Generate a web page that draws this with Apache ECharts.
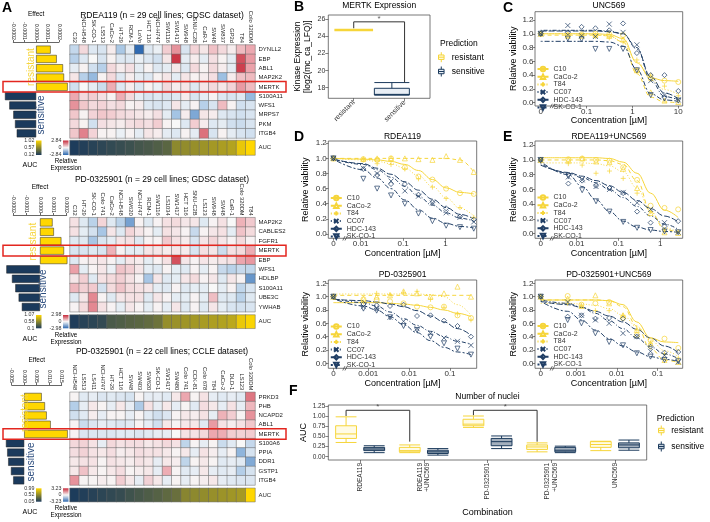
<!DOCTYPE html>
<html><head><meta charset="utf-8">
<script src="https://cdn.jsdelivr.net/npm/echarts@6/dist/echarts.min.js"></script>
<style>html,body{margin:0;padding:0;background:#fff}#c{width:710px;height:522px}</style>
</head><body><div id="c"></div>
<script>
// ---------------- DATA ----------------
const HM1_TITLE = 'RDEA119 (n = 29 cell lines; GDSC dataset)';
const HM1_COLS = ['C32','NCI-H548','SK-CO-1','LS513','CaCo-2','HT-29','RCM-1','LoVo','HCT 116','NCI-H747','SW1116','SW1417','SW948','SNU-C2B','CaR-1','SW48','SW837','GP2d','T84','Colo 320DM'];
const HM1_ROWS = ['DYNLL2','EBP','ABL1','MAP2K2','MERTK','S100A11','WFS1','MRPS7','PKM','ITGB4'];
const HM1_EXPR = [
 [-0.8,0.5,-0.4,-0.5,0.2,-1.2,-0.3,-2.8,-0.4,-0.2,0.7,1.6,-0.5,0.6,0.3,0.9,0.5,0.2,1.0,1.3],
 [-1.0,-0.4,0.0,-0.5,0.1,-0.4,-0.4,-0.2,-0.4,-0.6,0.3,2.7,-0.3,0.2,-0.3,0.4,0.1,-0.3,2.4,1.5],
 [-0.3,0.1,-0.6,-1.0,0.5,0.2,0.4,-0.3,0.1,-0.4,-0.3,0.3,-0.4,0.5,0.1,0.5,0.2,-0.3,2.6,1.4],
 [0.3,-1.0,-1.5,0.1,0.5,-0.4,0.2,-0.3,-0.4,0.1,0.3,-0.3,0.3,0.1,0.2,0.4,-1.4,0.2,0.9,1.0],
 [-0.6,0.0,-0.3,-0.7,1.2,-0.4,0.2,-0.4,0.1,-0.2,0.5,0.2,0.3,-0.4,0.3,0.5,0.3,0.6,1.5,1.0],
 [1.3,0.5,0.7,0.4,0.1,1.2,0.5,-0.3,-0.5,-0.4,-0.5,-0.4,0.2,-0.5,-0.3,0.1,-0.4,-0.5,-0.4,-1.5],
 [1.6,0.8,0.5,0.6,0.4,0.5,0.1,0.2,-0.4,-0.5,-0.4,0.3,-0.3,0.1,-1.0,-0.5,1.0,0.1,-0.6,-0.5],
 [0.8,0.1,0.6,0.8,0.7,0.5,0.4,0.3,0.2,0.4,-0.3,-1.3,0.2,-1.8,0.3,0.2,-0.4,-0.5,-0.6,-0.5],
 [0.5,0.1,-0.6,0.4,0.3,0.2,0.4,0.5,0.4,0.7,0.1,0.0,-0.4,0.7,0.2,-0.4,-0.3,-0.6,-0.7,-0.5],
 [0.8,1.8,0.6,0.1,0.1,-0.2,0.1,-0.3,0.3,0.2,-0.3,-0.4,0.1,-0.3,2.0,-0.5,0.1,-0.3,-0.5,-0.6]
];
const HM1_AUC = [0.13,0.15,0.17,0.19,0.21,0.23,0.25,0.28,0.30,0.33,0.37,0.57,0.59,0.61,0.63,0.66,0.69,0.72,0.93,1.02];
const HM1_EFFECT = [0.000127,0.00018,0.000235,0.000244,0.000276,-0.000273,-0.000235,-0.0002,-0.000185,-0.00017];
const HM1_AUC_LABELS = ['1.02','0.57','0.12'];
const HM1_EXPR_LABELS = ['2.84','0','-2.84'];

const HM2_TITLE = 'PD-0325901 (n = 29 cell lines; GDSC dataset)';
const HM2_COLS = ['C32','HT-29','SK-CO-1','Colo 741','CaCo-2','NCI-H548','SW620','NCI-H747','RCM-1','SW1116','LS1034','SW1417','HCT 116','SNU-C2B','LS123','SW948','SW48','CaR-1','Colo 320DM','T84'];
const HM2_ROWS = ['MAP2K2','CABLES2','FGFR1','MERTK','EBP','WFS1','HDLBP','S100A11','UBE3C','YWHAB'];
const HM2_EXPR = [
 [0.4,-0.4,-1.0,0.6,-0.4,-1.0,-2.0,0.1,-0.4,0.1,0.4,0.5,0.3,0.3,-0.4,0.1,0.4,0.0,1.2,0.8],
 [0.4,-0.3,-0.6,-1.3,0.3,-0.4,0.6,0.3,0.1,-0.3,0.4,0.3,0.1,-0.8,0.1,0.3,0.4,-0.3,0.9,0.5],
 [-0.4,-0.4,-1.3,-0.5,-0.3,0.3,0.4,-0.4,0.1,0.1,0.8,0.4,0.2,-0.5,0.3,0.6,0.3,0.1,0.5,0.1],
 [-0.5,-0.5,-0.4,-0.5,1.2,0.1,-0.3,-0.3,0.3,0.3,0.2,0.3,0.2,-0.5,0.4,0.3,-0.7,0.4,0.5,1.3],
 [-0.4,0.1,0.2,0.3,0.1,-0.3,0.3,0.2,-0.3,0.1,0.4,2.5,0.3,0.1,0.3,0.2,0.3,0.4,1.4,1.6],
 [1.5,-0.3,0.1,0.3,-0.2,0.9,0.7,0.3,-0.3,-0.4,0.1,-0.3,-0.4,0.1,-0.3,0.1,-0.8,-1.0,-0.8,-0.9],
 [0.3,0.7,-0.4,0.4,0.5,0.7,0.4,0.1,-1.3,0.3,-0.4,-0.3,0.3,0.5,0.1,0.3,-0.4,0.3,0.1,-2.2],
 [1.1,0.7,0.8,-0.6,0.5,0.9,0.5,0.4,0.3,-0.3,-0.4,0.1,-0.4,-0.3,-0.3,0.0,-0.3,0.1,-0.9,-0.5],
 [-0.4,0.3,1.8,0.1,-0.4,0.3,0.4,0.4,-0.4,0.3,0.1,-0.3,-0.3,0.1,-0.3,1.0,-0.4,-0.4,-1.0,-0.4],
 [0.1,0.5,1.8,0.4,0.1,-0.3,0.3,0.1,-0.3,0.1,-0.3,0.3,-0.4,0.1,-0.4,0.3,-0.3,-0.5,-0.6,-0.5]
];
const HM2_AUC = [0.12,0.15,0.17,0.20,0.30,0.32,0.35,0.37,0.40,0.45,0.62,0.64,0.66,0.68,0.70,0.72,0.74,0.78,0.98,1.05];
const HM2_EFFECT = [0.000094,0.000104,0.00016,0.00018,0.000205,-0.000252,-0.00021,-0.000185,-0.00016,-0.000136];
const HM2_AUC_LABELS = ['1.07','0.58','0.1'];
const HM2_EXPR_LABELS = ['2.98','0','-2.98'];

const HM3_TITLE = 'PD-0325901 (n = 22 cell lines; CCLE dataset)';
const HM3_COLS = ['NCI-H548','LS513','LS411','NCI-H747','HT-29','HCT 116','SW48','SW403','SW620','SK-CO-1','SW1417','SW480','Colo 741','CCK-81','Colo 678','T84','CaCo-2','DLD-1','LS123','Colo 320DM'];
const HM3_ROWS = ['PRKD3','PHB','NCAPD2','ABL1','MERTK','S100A6','PPIA','DDR1','GSTP1','ITGB4'];
const HM3_EXPR = [
 [0.1,-0.4,-0.3,-0.5,-0.4,-0.5,-0.6,0.1,-0.3,-0.3,-0.4,0.3,1.5,0.1,0.4,-0.3,-0.4,-0.3,-0.4,2.2],
 [-1.2,-0.3,0.3,0.1,-0.3,0.3,-0.3,-1.3,0.4,-0.3,0.3,-0.3,0.1,-0.4,0.5,0.3,-0.3,0.4,-0.3,1.2],
 [-0.7,-0.4,0.2,-0.3,0.1,0.1,-0.3,0.1,-0.4,-0.7,-0.5,0.1,0.3,0.2,0.4,-0.3,1.3,0.8,0.1,1.8],
 [0.1,-0.8,-0.5,-0.3,-0.4,-0.5,-0.4,0.1,-0.3,-0.7,0.3,0.1,0.3,0.3,-0.4,1.7,0.4,0.2,0.4,0.9],
 [0.1,-0.5,-0.5,-0.5,-0.5,-0.4,-0.4,-0.5,-0.4,-0.3,-0.3,0.0,0.4,0.4,0.6,1.5,1.4,0.8,0.7,0.8],
 [0.6,0.7,0.4,-0.3,0.6,0.4,0.5,0.5,0.3,0.4,0.6,0.4,-1.0,0.1,-0.3,0.1,-0.8,-0.4,0.0,-0.9],
 [0.5,0.7,0.4,0.3,0.5,0.2,0.3,0.5,0.4,0.4,0.3,0.1,0.3,-0.3,0.4,0.2,-0.3,0.1,-1.8,-0.6],
 [0.3,0.4,0.4,0.1,0.4,0.3,0.2,0.4,0.3,-0.3,0.3,0.2,-1.0,0.1,0.3,0.1,-0.4,-0.3,-0.4,-2.0],
 [0.3,1.0,0.3,0.1,0.3,0.5,0.1,0.2,0.3,-0.3,1.4,0.1,-0.4,-0.3,0.3,-0.3,-0.4,-0.3,-1.2,-0.6],
 [1.8,0.1,0.1,0.2,0.1,0.8,0.3,-0.3,0.7,0.3,-0.3,0.1,-0.3,0.1,0.2,0.3,-0.3,-0.4,-0.5,-0.5]
];
const HM3_AUC = [0.06,0.08,0.10,0.12,0.14,0.16,0.20,0.23,0.26,0.29,0.33,0.37,0.50,0.52,0.54,0.56,0.58,0.60,0.62,0.99];
const HM3_EFFECT = [0.0070,0.0083,0.0090,0.0106,0.0174,-0.0073,-0.0068,-0.0064,-0.0053,-0.0044];
const HM3_AUC_LABELS = ['0.99','0.52','0.05'];
const HM3_EXPR_LABELS = ['3.23','0','-3.23'];

// Panel B
const B_CATS = ['resistant','sensitive'];
const B_RESISTANT = [24.75,24.75,24.75,24.75,24.75];
const B_SENSITIVE = [17.15,17.15,17.22,17.93,18.6];
const B_YTICKS = [18,20,22,24,26];
const B_SIG_Y = [24.95,25.7,25.7,18.6];

// Dose response panels
const CELL_LINES = ['C10','CaCo-2','T84','CC07','HDC-143','SK-CO-1'];
const VIAB_TICKS = [0,0.2,0.4,0.6,0.8,1.0,1.2];

const C_DOSES = [0,0.039,0.078,0.156,0.3125,0.625,1.25,2.5,5,10];
const C_TICKS = [0,0.1,1,10];
const C_POINTS = [
 [1.0,0.98,0.99,1.0,0.99,0.98,0.47,0.35,0.32,0.30],
 [1.0,0.97,0.97,0.98,0.97,0.92,0.47,0.15,0.03,0.01],
 [1.0,0.98,0.98,0.96,0.94,0.88,0.62,0.40,0.24,0.10],
 [1.0,1.12,0.97,0.96,1.14,1.02,0.84,0.32,0.11,0.04],
 [1.0,1.02,1.10,1.08,1.05,1.15,0.72,0.40,0.40,0.17],
 [1.0,0.93,0.92,0.78,0.78,0.78,0.47,0.11,0.06,0.03]
];
const C_CURVES = [
 [1.0,1.0,1.0,1.0,0.99,0.93,0.58,0.36,0.32,0.31],
 [0.98,0.98,0.98,0.98,0.97,0.88,0.42,0.08,0.01,0.0],
 [1.0,1.0,1.0,0.99,0.97,0.88,0.60,0.34,0.19,0.12],
 [1.05,1.05,1.05,1.05,1.04,1.0,0.80,0.33,0.09,0.04],
 [1.04,1.04,1.04,1.04,1.03,1.0,0.78,0.38,0.14,0.06],
 [0.89,0.89,0.89,0.89,0.88,0.82,0.48,0.13,0.04,0.02]
];

const D1_DOSES = [0,0.0116,0.0245,0.052,0.11,0.23,0.49,1.03,2.18,4.6];
const D1_TICKS = [0,0.01,0.1,1];
const D1_POINTS = [
 [1.0,0.99,0.98,1.0,0.88,0.76,0.72,0.60,0.54,0.53],
 [1.0,0.99,1.0,1.0,1.0,0.99,0.98,1.03,0.98,0.82],
 [1.0,0.98,0.93,0.92,0.86,0.73,0.62,0.47,0.35,0.22],
 [1.0,0.87,0.80,0.70,0.57,0.50,0.41,0.28,0.22,0.16],
 [1.0,0.86,0.78,0.66,0.66,0.52,0.42,0.34,0.23,0.19],
 [1.0,0.73,0.60,0.51,0.40,0.27,0.17,0.11,0.09,0.07]
];
const D1_CURVES = [
 [1.0,0.99,0.98,0.96,0.92,0.84,0.72,0.61,0.55,0.53],
 [1.0,1.0,1.0,1.0,1.0,1.0,1.0,1.0,0.98,0.82],
 [1.0,0.98,0.96,0.93,0.87,0.77,0.63,0.48,0.34,0.24],
 [0.99,0.92,0.85,0.75,0.63,0.50,0.38,0.28,0.21,0.17],
 [0.99,0.93,0.87,0.79,0.69,0.58,0.46,0.35,0.26,0.20],
 [0.99,0.85,0.74,0.60,0.45,0.32,0.21,0.14,0.10,0.08]
];

const D2_DOSES = [0,0.00076,0.0016,0.0034,0.0073,0.0156,0.0334,0.0714,0.153,0.327];
const D2_TICKS = [0,0.001,0.01,0.1];
const D2_POINTS = [
 [1.0,0.96,0.95,0.93,0.90,0.85,0.84,0.85,0.72,0.68],
 [1.0,0.97,1.0,1.02,1.08,1.05,1.0,1.05,1.15,1.0],
 [1.0,0.92,1.05,1.03,1.06,1.08,0.96,0.84,0.74,0.65],
 [1.0,0.85,0.82,0.69,0.63,0.52,0.45,0.38,0.33,0.27],
 [1.0,0.89,0.87,0.86,0.88,0.71,0.72,0.64,0.56,0.40],
 [1.0,0.82,0.79,0.69,0.56,0.50,0.40,0.30,0.22,0.13]
];
const D2_CURVES = [
 [0.91,0.91,0.91,0.90,0.89,0.87,0.84,0.80,0.75,0.70],
 [1.02,1.02,1.02,1.02,1.02,1.02,1.02,1.02,1.02,1.02],
 [1.04,1.04,1.04,1.04,1.04,1.04,1.03,1.0,0.88,0.72],
 [0.97,0.91,0.86,0.77,0.67,0.57,0.48,0.40,0.33,0.28],
 [0.96,0.94,0.92,0.89,0.85,0.79,0.71,0.62,0.52,0.42],
 [0.97,0.86,0.80,0.70,0.58,0.46,0.34,0.24,0.17,0.13]
];

const E1_DOSES = [0,0.0063,0.0135,0.029,0.061,0.13,0.28,0.59,1.27,2.7];
const E1_TICKS = [0,0.01,0.1,1];
const E1_POINTS = [
 [1.0,1.01,1.02,1.0,0.99,0.90,0.73,0.38,0.35,0.33],
 [1.0,1.0,1.02,0.98,0.97,0.88,0.62,0.28,0.02,0.01],
 [1.0,0.95,0.93,0.82,0.85,0.75,0.55,0.30,0.05,0.03],
 [1.0,0.77,0.73,0.64,0.60,0.56,0.42,0.33,0.15,0.02],
 [1.0,0.68,0.72,0.65,0.62,0.55,0.30,0.15,0.10,0.17],
 [1.0,0.78,0.59,0.44,0.30,0.16,0.08,0.05,0.03,0.02]
];
const E1_CURVES = [
 [1.03,1.03,1.03,1.03,1.02,0.97,0.82,0.55,0.32,0.22],
 [1.0,1.0,1.0,1.0,0.99,0.94,0.72,0.30,0.06,0.01],
 [0.96,0.96,0.96,0.95,0.92,0.84,0.62,0.30,0.08,0.02],
 [0.95,0.82,0.76,0.69,0.60,0.49,0.37,0.24,0.13,0.06],
 [0.93,0.83,0.78,0.72,0.65,0.56,0.45,0.34,0.24,0.16],
 [0.98,0.80,0.64,0.46,0.30,0.17,0.09,0.05,0.03,0.02]
];

const E2_DOSES = [0,0.00063,0.00137,0.003,0.0065,0.0142,0.031,0.067,0.147,0.32];
const E2_TICKS = [0,0.001,0.01,0.1];
const E2_POINTS = [
 [1.0,1.01,0.88,0.90,0.92,0.68,0.42,0.35,0.37,0.23],
 [1.0,0.97,0.86,1.02,0.90,0.72,0.50,0.30,0.05,0.02],
 [1.0,0.90,0.86,0.79,0.79,0.72,0.50,0.30,0.14,0.08],
 [1.0,0.92,0.72,0.65,0.60,0.45,0.40,0.18,0.12,0.02],
 [1.0,0.70,0.72,0.67,0.68,0.67,0.40,0.25,0.16,0.17],
 [1.0,0.65,0.60,0.45,0.32,0.27,0.15,0.10,0.05,0.03]
];
const E2_CURVES = [
 [0.95,0.95,0.95,0.95,0.94,0.88,0.62,0.38,0.32,0.31],
 [0.95,0.95,0.95,0.95,0.94,0.85,0.56,0.22,0.05,0.01],
 [0.90,0.90,0.89,0.87,0.82,0.72,0.55,0.35,0.19,0.10],
 [0.95,0.90,0.84,0.75,0.64,0.52,0.38,0.25,0.14,0.07],
 [0.93,0.88,0.84,0.78,0.71,0.62,0.51,0.38,0.26,0.16],
 [0.93,0.78,0.65,0.50,0.37,0.26,0.17,0.10,0.06,0.03]
];

// Panel F
const F_CATS = ['RDEA119','RDEA119+UNC569','PD-0325901','PD-0325901+UNC569','UNC569'];
const F_RESISTANT = [
 [0.35,0.45,0.56,0.76,0.98],
 [0.10,0.12,0.15,0.23,0.29],
 [0.72,0.76,0.80,0.92,1.00],
 [0.12,0.18,0.24,0.29,0.34],
 [0.15,0.23,0.30,0.37,0.38]
];
const F_SENSITIVE = [
 [0.10,0.15,0.19,0.23,0.27],
 [0.04,0.08,0.12,0.16,0.20],
 [0.20,0.27,0.37,0.45,0.51],
 [0.10,0.12,0.16,0.23,0.26],
 [0.16,0.22,0.29,0.34,0.41]
];
const F_YTICKS = [0,0.25,0.5,0.75,1.0,1.25];
const F_SIG = [[0,1,1.0,1.14,0.37],[2,3,1.02,1.14,0.37]]; // from cat, to cat, left y, top y, right y

// ---------------- STYLE / BUILD ----------------
const FONT = '"Liberation Sans", Arial, Helvetica, sans-serif';
const YEL = '#FFD700', NAVY = '#1B3A5C', NAVY2 = '#213F66', LYEL = '#F6D53A';
const EXPR_COLORS = ['#2c68b0','#9cbfe2','#f8f8f8','#eba1a9','#c72b3b'];
const LINE_COLORS = [LYEL, LYEL, LYEL, NAVY2, NAVY2, NAVY2];
const LINE_TYPES = ['solid',[4,3],[1,2],[1,2,4,2],[6,2],[2,2,5,2]];
const SYMBOLS = ['circle','triangle','path://M5,0L5,10M0,5L10,5','path://M0,0L10,10M10,0L0,10','diamond','path://M0,0L10,0L5,9Z'];
const BOX_ICON = 'path://M2,5H12V13H2ZM2,9H12M7,0V5M7,13V18';
const EMPTY_BOX = ['-','-','-','-','-'];

const grid=[], xAxis=[], yAxis=[], series=[], visualMap=[], legend=[], graphic=[];
const addGrid = g => { grid.push(g); return grid.length-1; };
const addX = a => { a.axisLine = Object.assign({onZero:false}, a.axisLine||{}); xAxis.push(a); return xAxis.length-1; };
const addY = a => { a.axisLine = Object.assign({onZero:false}, a.axisLine||{}); yAxis.push(a); return yAxis.length-1; };
const addS = s => { series.push(s); return series.length-1; };
function txt(x, y, t, o) {
  o = o || {};
  graphic.push({type:'text', x, y, rotation:o.rot||0, silent:true, z:100,
    style:{text:t, fontSize:o.size||8, fontFamily:FONT, fontWeight:o.weight||'normal', fill:o.color||'#000',
      align:o.align||'center', verticalAlign:o.va||'middle', lineHeight:o.lh}});
}
function colorbar(x, y, w, h, colorsBottomTop, labels) {
  graphic.push({type:'rect', silent:true, z:100, shape:{x, y, width:w, height:h},
    style:{fill:{type:'linear', x:0, y:1, x2:0, y2:0, colorStops: colorsBottomTop.map((c,i)=>({offset:i/(colorsBottomTop.length-1), color:c}))}}});
  labels.forEach((t,i)=>{
    txt(x-1.5, y + i*h/2, t, {size:5.3, align:'right', color:'#333'});
  });
}

function heatBlock(o) {
  const gH = addGrid({left:70, top:o.top, width:185, height:o.h});
  const xH = addX({type:'category', gridIndex:gH, data:o.cols, position:'top', axisLine:{show:false}, axisTick:{show:false},
    axisLabel:{rotate:90, fontSize:5.8, color:'#222', margin:2, interval:0}, splitLine:{show:false}});
  const yH = addY({type:'category', gridIndex:gH, data:o.rows, inverse:true, position:'right', axisLine:{show:false}, axisTick:{show:false},
    axisLabel:{fontSize:6, color:'#222', margin:3.5, interval:0}});
  const d=[]; o.expr.forEach((row,r)=>row.forEach((v,c)=>d.push([c,r,v])));
  const sH = addS({type:'heatmap', name:'expr', xAxisIndex:xH, yAxisIndex:yH, data:d, silent:true,
    itemStyle:{borderColor:'#666', borderWidth:0.5}});
  visualMap.push({type:'continuous', show:false, seriesIndex:sH, dimension:2, min:-o.exprMax, max:o.exprMax, inRange:{color:EXPR_COLORS}});
  const gA = addGrid({left:70, top:o.aucTop, width:185, height:o.aucH});
  const xA = addX({type:'category', gridIndex:gA, data:o.cols, show:false});
  const yA = addY({type:'category', gridIndex:gA, data:['AUC'], position:'right', axisLine:{show:false}, axisTick:{show:false},
    axisLabel:{fontSize:6, color:'#222', margin:3.5}});
  const sA = addS({type:'heatmap', name:'auc', xAxisIndex:xA, yAxisIndex:yA, data:o.auc.map((v,c)=>[c,0,v]), silent:true,
    itemStyle:{borderColor:'#666', borderWidth:0.5}});
  visualMap.push({type:'continuous', show:false, seriesIndex:sA, dimension:2, min:o.aucMin, max:o.aucMax, inRange:{color:[NAVY, YEL]}});
  const gB = addGrid({left:o.barL, top:o.top, width:o.barW, height:o.h});
  const xB = addX({type:'value', gridIndex:gB, position:'top', offset:o.axOff, min:o.effMin, max:o.effMax, interval:o.effInt,
    name:'Effect', nameLocation:'middle', nameGap:o.nameGap, nameTextStyle:{fontSize:6.5, color:'#000'},
    axisLine:{show:true, lineStyle:{color:'#000', width:0.6}}, axisTick:{show:true, length:2, lineStyle:{color:'#000', width:0.6}},
    axisLabel:{rotate:90, fontSize:5.3, color:'#222', margin:2, formatter:v=>v.toFixed(o.digits)}, splitLine:{show:false}});
  const yB = addY({type:'category', gridIndex:gB, data:o.rows, inverse:true, show:false});
  addS({type:'bar', name:'effect', xAxisIndex:xB, yAxisIndex:yB, clip:false, barCategoryGap:'14%', silent:true,
    data:o.effect.map(v=>({value:v, itemStyle:{color: v>0?YEL:NAVY}})), itemStyle:{borderColor:'#222', borderWidth:0.5}});
  txt(162, o.titleY, o.title, {size:8.5});
  txt(o.resX, o.resY, 'resistant', {size:10, rot:Math.PI/2, color:LYEL});
  txt(o.senX, o.senY, 'sensitive', {size:10, rot:Math.PI/2, color:'#2B4C7E'});
  const ri = o.rows.indexOf('MERTK'), rh = o.h/o.rows.length;
  graphic.push({type:'rect', silent:true, z:101, shape:{x:3, y:o.top+ri*rh-0.6, width:283, height:rh+1.2},
    style:{fill:null, stroke:'#E3261F', lineWidth:1.5}});
  colorbar(36, o.aucTop, 5.5, o.aucH, [NAVY, YEL], o.aucLabels);
  colorbar(63, o.aucTop, 5.5, o.aucH, [EXPR_COLORS[0], EXPR_COLORS[2], EXPR_COLORS[4]], o.exprLabels);
  txt(30, o.legY+4, 'AUC', {size:7});
  txt(66, o.legY, 'Relative', {size:6.3});
  txt(66, o.legY+7, 'Expression', {size:6.3});
}

heatBlock({title:HM1_TITLE, titleY:16, cols:HM1_COLS, rows:HM1_ROWS, expr:HM1_EXPR, auc:HM1_AUC, effect:HM1_EFFECT,
  top:45, h:93, aucTop:140.5, aucH:14.5, barL:13.3, barW:45.7, effMin:-0.0002, effMax:0.0002, effInt:0.0001, digits:4,
  axOff:3, nameGap:22.5, exprMax:2.84, aucMin:0.12, aucMax:1.02, resX:31.7, resY:67, senX:41.7, senY:115,
  aucLabels:HM1_AUC_LABELS, exprLabels:HM1_EXPR_LABELS, legY:161});
heatBlock({title:HM2_TITLE, titleY:180, cols:HM2_COLS, rows:HM2_ROWS, expr:HM2_EXPR, auc:HM2_AUC, effect:HM2_EFFECT,
  top:217.7, h:94, aucTop:315, aucH:13.3, barL:13.3, barW:53.4, effMin:-0.0002, effMax:0.0002, effInt:0.0001, digits:4,
  axOff:2.7, nameGap:21.5, exprMax:2.98, aucMin:0.1, aucMax:1.07, resX:33.3, resY:241.7, senX:43.3, senY:289,
  aucLabels:HM2_AUC_LABELS, exprLabels:HM2_EXPR_LABELS, legY:335});
heatBlock({title:HM3_TITLE, titleY:352, cols:HM3_COLS, rows:HM3_ROWS, expr:HM3_EXPR, auc:HM3_AUC, effect:HM3_EFFECT,
  top:392.3, h:92.7, aucTop:488.3, aucH:13.4, barL:11.7, barW:50, effMin:-0.005, effMax:0.015, effInt:0.005, digits:3,
  axOff:7.3, nameGap:17.5, exprMax:3.23, aucMin:0.05, aucMax:0.99, resX:25, resY:413, senX:31.7, senY:462,
  aucLabels:HM3_AUC_LABELS, exprLabels:HM3_EXPR_LABELS, legY:508.3});

// ---- Panel B ----
(function(){
  const g = addGrid({left:328.3, top:15, width:101.7, height:83.3, show:true, borderColor:'#555', borderWidth:0.8});
  const x0 = addX({type:'category', gridIndex:g, data:B_CATS, axisLine:{show:false},
    axisTick:{show:true, length:3, alignWithLabel:true, lineStyle:{color:'#333', width:0.6}},
    axisLabel:{rotate:45, fontSize:7, color:'#333', margin:3}});
  // hidden finer band axis used to place the 'sensitive' box where the reference draws it
  const x1 = addX({type:'category', gridIndex:g, data:['s0','s1',B_CATS[1],'s3'], show:false});
  const x2 = addX({type:'value', gridIndex:g, min:0, max:2, show:false});
  const y = addY({type:'value', gridIndex:g, min:16.76, max:26.5, axisLine:{show:false},
    axisTick:{show:true, length:3, customValues:B_YTICKS, lineStyle:{color:'#333', width:0.6}},
    axisLabel:{customValues:B_YTICKS, fontSize:7, color:'#333', margin:3}, splitLine:{show:false},
    name:'Kinase Expression\n[log2(mc_ca_LFQ)]', nameLocation:'middle', nameGap:16, nameTextStyle:{fontSize:8.5, lineHeight:9.5, color:'#000'}});
  addS({type:'boxplot', name:'resistant', xAxisIndex:x0, yAxisIndex:y, data:[B_RESISTANT], silent:true,
    itemStyle:{color:'#FFF6C8', borderColor:LYEL, borderWidth:2.6}});
  addS({type:'boxplot', name:'sensitive', xAxisIndex:x1, yAxisIndex:y, data:[EMPTY_BOX, EMPTY_BOX, B_SENSITIVE, EMPTY_BOX], silent:true,
    boxWidth:[35,35], itemStyle:{color:'#E8EEF5', borderColor:NAVY, borderWidth:1}});
  addS({type:'line', name:'sigB', xAxisIndex:x2, yAxisIndex:y, data:[[0.5,B_SIG_Y[0]],[0.5,B_SIG_Y[1]],[1.5,B_SIG_Y[2]],[1.5,B_SIG_Y[3]]],
    symbol:'none', silent:true, lineStyle:{color:'#333', width:1}});
  addS({type:'scatter', name:'starB', xAxisIndex:x2, yAxisIndex:y, data:[[1.0,B_SIG_Y[1]]], symbolSize:0, silent:true,
    label:{show:true, position:'top', distance:-1, formatter:'*', fontSize:8, color:'#333'}});
  txt(379.2, 6, 'MERTK Expression', {size:8.5});
  txt(440, 43.3, 'Prediction', {size:8.5, align:'left'});
  legend.push({left:438, top:51.7, orient:'vertical', itemWidth:11, itemHeight:10, itemGap:3.3, padding:0, selectedMode:false,
    textStyle:{fontSize:8.5, color:'#000'},
    data:[{name:'resistant', icon:BOX_ICON, itemStyle:{color:'#FFFBE0', borderColor:LYEL, borderWidth:1}},
          {name:'sensitive', icon:BOX_ICON, itemStyle:{color:'#E8EEF5', borderColor:NAVY, borderWidth:1}}]});
})();

// ---- Dose response panels ----
function dosePanel(p) {
  const g = addGrid({left:p.left, top:p.top, width:p.w, height:p.h, show:true, borderColor:'#555', borderWidth:0.8});
  const pos = c => c === 0 ? p.zero : Math.log10(c);
  const xt = p.ticks.map(pos);
  const xi = addX({type:'value', gridIndex:g, min:p.xMin, max:p.xMax, axisLine:{show:false},
    axisTick:{show:true, length:2.5, customValues:xt, lineStyle:{color:'#333', width:0.6}},
    axisLabel:{customValues:xt, fontSize:8, color:'#333', margin:1.5,
      formatter:v=>{ const i = xt.findIndex(t=>Math.abs(t-v)<1e-6); return i<0 ? '' : String(p.ticks[i]); }},
    splitLine:{show:false}, name:'Concentration [µM]', nameLocation:'middle', nameGap:8.5, nameTextStyle:{fontSize:9, color:'#000'}});
  const yi = addY({type:'value', gridIndex:g, min:p.yMin, max:p.yMax, axisLine:{show:false},
    axisTick:{show:true, length:2.5, customValues:VIAB_TICKS, lineStyle:{color:'#333', width:0.6}},
    axisLabel:{customValues:VIAB_TICKS, fontSize:8, color:'#333', margin:1.5, formatter:v=>v.toFixed(1)},
    splitLine:{show:false}, name:'Relative viability', nameLocation:'middle', nameGap:p.yGap, nameTextStyle:{fontSize:9, color:'#000'}});
  CELL_LINES.forEach((name,k)=>{
    addS({type:'line', name, xAxisIndex:xi, yAxisIndex:yi, data:p.doses.map((c,i)=>[pos(c), p.curves[k][i]]),
      smooth:0.4, smoothMonotone:'x', showSymbol:false, symbol:SYMBOLS[k], symbolSize:5, silent:true, z:2,
      lineStyle:{color:LINE_COLORS[k], width:1, type:LINE_TYPES[k]},
      itemStyle:{color:'transparent', borderColor:LINE_COLORS[k], borderWidth:0.9}});
  });
  CELL_LINES.forEach((name,k)=>{
    addS({type:'scatter', name, xAxisIndex:xi, yAxisIndex:yi, data:p.doses.map((c,i)=>[pos(c), p.points[k][i]]),
      symbol:SYMBOLS[k], symbolSize:5, silent:true, z:3,
      itemStyle:{color:'transparent', borderColor:LINE_COLORS[k], borderWidth:0.9}});
  });
  legend.push({left:p.left+1.5, top:p.legTop, orient:'vertical', data:CELL_LINES, itemWidth:11, itemHeight:5.5, itemGap:0.7,
    padding:0, selectedMode:false, textStyle:{fontSize:7, color:'#333'}});
  txt(p.left+p.w/2, p.titleY, p.title, {size:8.5});
  const zx = p.left + (p.zero - p.xMin)/(p.xMax-p.xMin)*p.w + 11, by = p.top + p.h;
  [0,2.2].forEach(d=>graphic.push({type:'line', silent:true, z:100,
    shape:{x1:zx+d-1.6, y1:by+2.2, x2:zx+d+0.6, y2:by-2.2}, style:{stroke:'#333', lineWidth:0.7}}));
}

dosePanel({title:'UNC569', titleY:6, left:535, top:11.7, w:147.7, h:94.3, xMin:-2.124, xMax:1.096, zero:-2.0, ticks:C_TICKS,
  yMin:-0.048, yMax:1.32, doses:C_DOSES, points:C_POINTS, curves:C_CURVES, legTop:65.5, yGap:17});
dosePanel({title:'RDEA119', titleY:136.5, left:328.3, top:141, w:148.4, h:97.3, xMin:-2.76, xMax:0.732, zero:-2.64, ticks:D1_TICKS,
  yMin:-0.057, yMax:1.23, doses:D1_DOSES, points:D1_POINTS, curves:D1_CURVES, legTop:194.5, yGap:18});
dosePanel({title:'PD-0325901', titleY:275, left:328.3, top:280, w:148.4, h:88.3, xMin:-3.98, xMax:-0.345, zero:-3.856, ticks:D2_TICKS,
  yMin:-0.075, yMax:1.25, doses:D2_DOSES, points:D2_POINTS, curves:D2_CURVES, legTop:323, yGap:18});
dosePanel({title:'RDEA119+UNC569', titleY:136.5, left:535, top:141, w:147.7, h:97.3, xMin:-3.0, xMax:0.54, zero:-2.865, ticks:E1_TICKS,
  yMin:-0.062, yMax:1.257, doses:E1_DOSES, points:E1_POINTS, curves:E1_CURVES, legTop:194, yGap:17});
dosePanel({title:'PD-0325901+UNC569', titleY:275, left:535, top:280, w:147.7, h:88.3, xMin:-4.0, xMax:-0.387, zero:-3.86, ticks:E2_TICKS,
  yMin:-0.075, yMax:1.25, doses:E2_DOSES, points:E2_POINTS, curves:E2_CURVES, legTop:322.5, yGap:17});

// ---- Panel F ----
(function(){
  const g = addGrid({left:328.3, top:405, width:318.4, height:55, show:true, borderColor:'#555', borderWidth:0.8});
  const x0 = addX({type:'category', gridIndex:g, data:F_CATS, axisLine:{show:false},
    axisTick:{show:true, length:3, alignWithLabel:true, lineStyle:{color:'#333', width:0.6}},
    axisLabel:{rotate:90, fontSize:6.5, color:'#333', margin:3, lineHeight:7.5, interval:0, formatter:s=>s.replace('+','\n+')},
    name:'Combination', nameLocation:'middle', nameGap:48.5, nameTextStyle:{fontSize:9, color:'#000'}});
  const x1 = addX({type:'value', gridIndex:g, min:0, max:F_CATS.length, show:false});
  const y = addY({type:'value', gridIndex:g, min:-0.08, max:1.27, axisLine:{show:false},
    axisTick:{show:true, length:3, customValues:F_YTICKS, lineStyle:{color:'#333', width:0.6}},
    axisLabel:{customValues:F_YTICKS, fontSize:6.5, color:'#333', margin:3, formatter:v=>v.toFixed(2)}, splitLine:{show:false},
    name:'AUC', nameLocation:'middle', nameGap:20.5, nameTextStyle:{fontSize:9, color:'#000'}});
  addS({type:'boxplot', name:'resistant', xAxisIndex:x0, yAxisIndex:y, data:F_RESISTANT, silent:true,
    itemStyle:{color:'rgba(255,215,0,0.10)', borderColor:LYEL, borderWidth:1}});
  addS({type:'boxplot', name:'sensitive', xAxisIndex:x0, yAxisIndex:y, data:F_SENSITIVE, silent:true,
    itemStyle:{color:'rgba(27,58,92,0.40)', borderColor:NAVY, borderWidth:1}});
  const DODGE = -0.221;
  F_SIG.forEach(s=>{
    const a = s[0]+0.5+DODGE, b = s[1]+0.5+DODGE;
    addS({type:'line', name:'sigF', xAxisIndex:x1, yAxisIndex:y, data:[[a,s[2]],[a,s[3]],[b,s[3]],[b,s[4]]],
      symbol:'none', silent:true, lineStyle:{color:'#333', width:1}});
    addS({type:'scatter', name:'starF', xAxisIndex:x1, yAxisIndex:y, data:[[(a+b)/2, s[3]]], symbolSize:0, silent:true,
      label:{show:true, position:'top', distance:-1, formatter:'*', fontSize:8, color:'#333'}});
  });
  txt(487.5, 396.7, 'Number of nuclei', {size:8.5});
  txt(656.7, 418.3, 'Prediction', {size:8.5, align:'left'});
  legend.push({left:658, top:425, orient:'vertical', itemWidth:10, itemHeight:10, itemGap:5, padding:0, selectedMode:false,
    textStyle:{fontSize:8.5, color:'#000'},
    data:[{name:'resistant', icon:BOX_ICON, itemStyle:{color:'#FFFBE0', borderColor:LYEL, borderWidth:1}},
          {name:'sensitive', icon:BOX_ICON, itemStyle:{color:'#C5CFDB', borderColor:NAVY, borderWidth:1}}]});
})();

// Panel letters
[['A',2,8],['B',294,7],['C',503,8],['D',294,137],['E',503,137],['F',289,391]].forEach(l=>
  txt(l[1], l[2], l[0], {size:14, weight:'bold', align:'left'}));

const chart = echarts.init(document.getElementById('c'), null, {renderer:'canvas', width:710, height:522});
chart.setOption({animation:false, textStyle:{fontFamily:FONT}, tooltip:{show:false},
  grid, xAxis, yAxis, series, visualMap, legend, graphic:{elements:graphic}});
</script></body></html>
